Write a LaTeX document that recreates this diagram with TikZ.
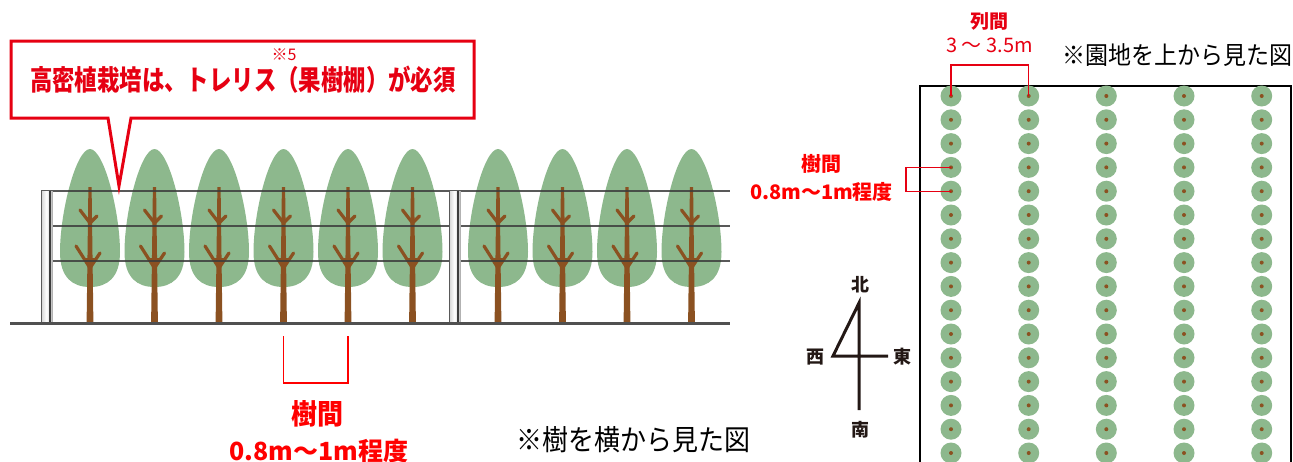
\documentclass[tikz,border=0pt]{standalone}
\usepackage{fontspec}
\usepackage{graphicx}
\newfontfamily\jp{Noto Sans CJK JP}
\definecolor{leafgreen}{RGB}{141,184,141}
\definecolor{bark}{RGB}{139,81,33}
\definecolor{wiregray}{RGB}{60,60,60}
\definecolor{alertred}{RGB}{230,0,18}
\definecolor{textred}{RGB}{255,0,0}
\definecolor{inkdark}{RGB}{35,24,21}
\newcommand{\fsz}[1]{\fontsize{#1}{#1}\selectfont}
\tikzset{
  twig/.style={draw=bark, line width=3.2pt, line cap=round, line join=round},
  wire/.style={draw=wiregray, line width=1.3pt, opacity=0.85},
  groundline/.style={draw=wiregray!90, line width=3pt},
  gapline/.style={draw=textred, line width=1.4pt},
  thinred/.style={draw=alertred, line width=1.3pt},
  plant/.style={circle, fill=leafgreen, minimum size=21pt, inner sep=0pt},
  lbl/.style={inner sep=0pt, outer sep=0pt},
  compass/.style={draw=inkdark, line width=3pt, line join=miter},
}
\begin{document}
\begin{tikzpicture}[x=1pt,y=-1pt]
\useasboundingbox (0,0) rectangle (1293,461);
\clip (0,0) rectangle (1293,461);

% ---- side view: trees along the trellis ----
\foreach \x in {90,154.5,219,283.5,348,412.5,498,562.5,627,691.5} {
  \fill[leafgreen] (\x,149) .. controls (\x+14,149) and (\x+30,212) .. (\x+30,252)
        .. controls (\x+30,278) and (\x+17,287) .. (\x,287)
        .. controls (\x-17,287) and (\x-30,278) .. (\x-30,252)
        .. controls (\x-30,212) and (\x-14,149) .. (\x,149) -- cycle;
  \fill[bark] (\x-1.6,187) -- (\x+1.6,187) -- (\x+3.4,323) -- (\x-3.4,323) -- cycle;
  \draw[twig] (\x-10,210) -- (\x,223) -- (\x+7,216);
  \draw[twig] (\x-14,246) -- (\x,268) -- (\x+10,253);
  \fill[bark] (\x-6,258) -- (\x+5,258) -- (\x,271) -- cycle;
}

% trellis wires
\foreach \y in {191,226,261} \draw[wire] (41,\y) -- (730,\y);

% trellis posts
\foreach \px in {41,449} {
  \shade[left color=gray!35, right color=gray!55, middle color=white] (\px,191) rectangle (\px+11,323);
  \draw[gray!70!black, line width=0.8pt] (\px,191) -- (\px,323);
  \draw[wiregray, line width=1.2pt] (\px+9,191) -- (\px+9,323);
  \draw[gray!60, line width=0.6pt] (\px+11,191) -- (\px+11,323);
}

% ground
\draw[groundline] (10,323) -- (730,323);

% speech balloon
\draw[alertred, line width=3pt, fill=white, line join=miter]
  (11,41) -- (474,41) -- (474,118) -- (131,118) -- (119,186) -- (108,118) -- (11,118) -- cycle;
\node[lbl, text=alertred, font=\jp\bfseries\fsz{28}] (msg) at (243,80)
  {\scalebox{0.8}[1]{高密植栽培は、トレリス（果樹棚）が必須}};
\node[lbl, text=alertred, font=\jp\fsz{16}] (note5) at (284,55) {※5};

% spacing bracket under the trees
\coordinate (gapL) at (283.5,336);
\coordinate (gapR) at (348,336);
\draw[gapline] (gapL) -- ++(0,47) -| (gapR);
\node[lbl, text=textred, font=\jp\bfseries\fsz{26}] (sidegap) at (317,414) {\scalebox{1}[1.08]{樹間}};
\node[lbl, text=textred, font=\jp\bfseries\fsz{25}] (sidegapv) at (319,451) {0.8m～1m程度};
\node[lbl, font=\jp\fsz{26}] (sidecap) at (633,440) {\scalebox{1}[1.1]{※樹を横から見た図}};

% ---- top view of the orchard ----
\draw[black, line width=1.5pt] (920,470) -- (920,86) -- (1291,86) -- (1291,470);
\foreach \c [count=\i] in {951,1028.7,1106.3,1184,1261.7} {
  \foreach \r in {0,...,15} {
    \node[plant] (p\i-\r) at (\c,96+23.8*\r) {};
    \fill[bark] (p\i-\r.center) circle[radius=2pt];
  }
}
\draw[thinred] (p1-0.center) -- ++(0,-31) -| (p2-0.center);
\draw[thinred] (p1-3.center) -- ++(-45,0) |- (p1-4.center);
\node[lbl, text=alertred, font=\jp\bfseries\fsz{19}] (colgap) at (989,21) {列間};
\node[lbl, text=alertred, font=\jp\fsz{20}] (colgapv) at (989.5,45.5) {3 ～ 3.5m};
\node[lbl, text=textred, font=\jp\bfseries\fsz{20}] (rowgap) at (821,163.5) {樹間};
\node[lbl, text=textred, font=\jp\bfseries\fsz{20}] (rowgapv) at (821.5,191.5) {0.8m～1m程度};
\node[lbl, font=\jp\fsz{23}] (topcap) at (1177,55) {\scalebox{1}[1.08]{※園地を上から見た図}};

% compass
\coordinate (cN) at (859,303);
\coordinate (cS) at (859,410);
\coordinate (cW) at (833,356);
\coordinate (cE) at (888,356);
\draw[compass] (cS) -- (cN) -- (cW) -- (cE);
\node[lbl, text=inkdark, font=\jp\bfseries\fsz{18}] (north) at (860,285) {北};
\node[lbl, text=inkdark, font=\jp\bfseries\fsz{18}] (west) at (815,357) {西};
\node[lbl, text=inkdark, font=\jp\bfseries\fsz{18}] (east) at (902,357) {東};
\node[lbl, text=inkdark, font=\jp\bfseries\fsz{18}] (south) at (860,430) {南};
\end{tikzpicture}
\end{document}
